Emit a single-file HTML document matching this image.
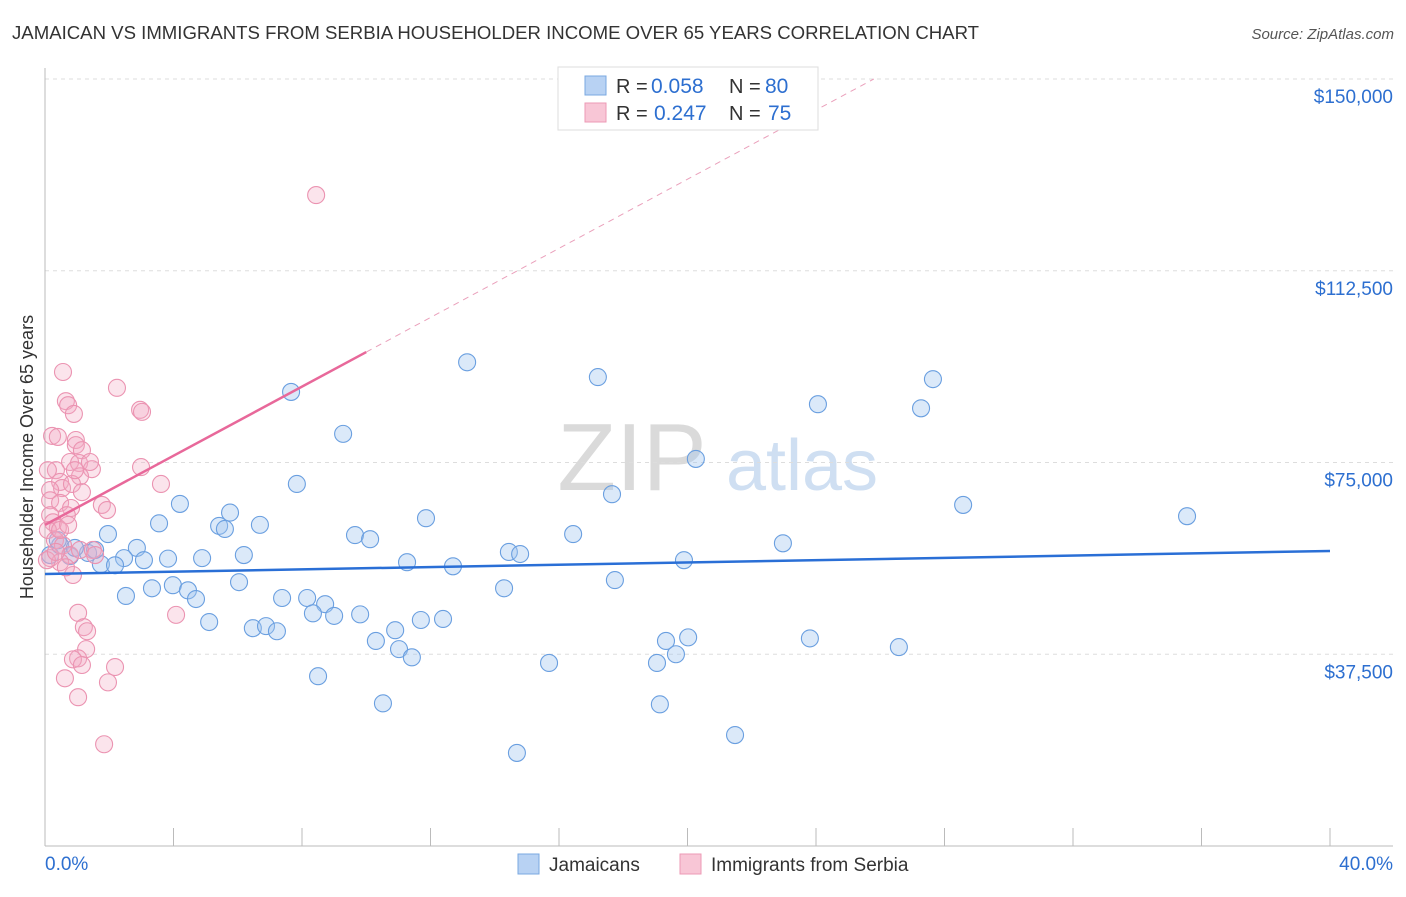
<!DOCTYPE html>
<html><head><meta charset="utf-8"><style>
body{margin:0;background:#fff;font-family:"Liberation Sans",sans-serif;}
svg text{font-family:"Liberation Sans",sans-serif;}
</style></head><body>
<svg id="chart" width="1406" height="892" viewBox="0 0 1406 892">
<text x="12" y="39" font-size="18.6" fill="#333">JAMAICAN VS IMMIGRANTS FROM SERBIA HOUSEHOLDER INCOME OVER 65 YEARS CORRELATION CHART</text>
<text x="1394" y="39" font-size="15" fill="#555" font-style="italic" text-anchor="end">Source: ZipAtlas.com</text>
<text x="632" y="490" font-size="96" fill="#dadada" font-family="Liberation Serif" text-anchor="middle">ZIP</text>
<text x="802" y="490" font-size="72" fill="#cfdff2" text-anchor="middle">atlas</text>
<g id="grid"></g>
<g id="axes"></g>
<g id="points"></g>
<g id="trends"></g>
<text transform="translate(33,457) rotate(-90)" font-size="18" fill="#333" text-anchor="middle">Householder Income Over 65 years</text>
<g>
<rect x="558" y="67" width="260" height="63" fill="#fff" stroke="#ddd"/>
<rect x="585" y="76" width="21" height="19" fill="#b8d2f3" stroke="#7aa8e0"/>
<rect x="585" y="103" width="21" height="19" fill="#f8c6d6" stroke="#ec9ab5"/>
<text x="616" y="93" font-size="20" fill="#333">R =</text>
<text x="651" y="93" font-size="21" fill="#2d6fd0">0.058</text>
<text x="729" y="93" font-size="20" fill="#333">N =</text>
<text x="765" y="93" font-size="21" fill="#2d6fd0">80</text>
<text x="616" y="120" font-size="20" fill="#333">R =</text>
<text x="654" y="120" font-size="21" fill="#2d6fd0">0.247</text>
<text x="729" y="120" font-size="20" fill="#333">N =</text>
<text x="768" y="120" font-size="21" fill="#2d6fd0">75</text>
</g>
<g>
<rect x="518" y="854" width="21" height="20" fill="#b8d2f3" stroke="#7aa8e0"/>
<text x="549" y="871" font-size="19" fill="#333">Jamaicans</text>
<rect x="680" y="854" width="21" height="20" fill="#f8c6d6" stroke="#ec9ab5"/>
<text x="711" y="871" font-size="19" fill="#333">Immigrants from Serbia</text>
</g>
</svg>
<script>
const yTicks=[37500,75000,112500,150000];
const yTickLabels=["$37,500","$75,000","$112,500","$150,000"];
const xTickLabels=["0.0%","40.0%"];
const blueX=[13.14,17.21,27.64,7.66,24.06,27.27,9.28,20.26,28.58,35.55,4.20,5.76,7.84,17.65,11.86,3.55,5.42,5.60,6.69,1.96,16.44,9.65,10.12,22.97,2.86,14.44,14.79,6.19,2.46,3.83,4.89,3.08,11.27,19.89,1.74,2.18,12.70,6.04,17.74,3.98,3.33,4.45,14.29,2.52,4.70,7.38,8.16,8.72,8.34,9.00,9.81,5.11,11.70,12.39,6.47,6.88,7.22,10.90,10.30,19.33,20.02,23.81,26.58,11.02,11.42,15.69,19.05,19.64,8.50,10.52,19.14,21.48,14.69,0.16,0.47,0.78,1.34,1.56,0.40,0.93];
const blueY=[94.6,91.7,91.3,88.8,86.4,85.6,80.6,75.7,66.7,64.5,66.9,65.2,70.8,68.8,64.1,63.1,62.6,62.0,62.8,61.0,61.0,60.8,60.0,59.2,58.3,57.5,57.1,56.9,56.3,56.2,56.3,55.9,55.5,55.9,55.1,54.9,54.7,51.6,52.0,51.0,50.4,50.0,50.4,48.9,48.3,48.5,48.5,47.3,45.5,45.0,45.3,43.8,44.2,44.4,42.6,43.0,42.0,42.2,40.1,40.1,40.8,40.6,38.9,38.5,36.9,35.8,35.8,37.5,33.2,27.9,27.7,21.7,18.2,56.9,58.8,56.7,57.3,57.9,59.8,58.3];
const pinkX=[0.56,2.24,0.65,0.72,2.96,3.02,0.90,0.22,0.40,0.96,0.96,1.15,0.78,1.06,1.46,2.99,0.34,1.09,0.47,0.53,0.84,0.16,3.61,1.15,0.16,0.47,0.81,1.77,1.93,0.16,0.68,0.25,0.40,0.09,0.31,0.56,0.78,1.09,1.49,0.16,0.47,0.87,8.44,1.03,1.21,1.31,1.28,1.03,0.87,1.15,2.18,0.62,1.96,1.03,1.84,4.08,0.06,0.65,0.34,1.56,0.47,0.09,1.40,0.93,0.72];
const pinkY=[92.7,89.6,87.0,86.2,85.3,84.9,84.5,80.2,80.0,79.4,78.4,77.4,75.1,74.9,73.7,74.1,73.5,72.3,71.2,70.0,70.8,69.6,70.8,69.2,67.6,67.1,66.1,66.7,65.7,64.7,64.7,63.3,62.2,61.8,59.8,58.8,56.9,57.9,57.9,56.3,55.5,53.0,127.3,45.6,42.8,42.0,38.5,36.7,36.5,35.4,35.0,32.8,32.0,29.1,19.9,45.2,55.9,54.5,57.5,56.9,61.8,73.5,75.1,73.5,62.8];
const blueTrend=[53.2,57.7];
const pinkTrend=[62.8,96.6];
const NS="http://www.w3.org/2000/svg";
function xs(v){return 45+v/40*1285;}
function ys(k){return 846-k/150*767;}
function mk(tag,attrs,parent){const e=document.createElementNS(NS,tag);for(const a in attrs)e.setAttribute(a,attrs[a]);parent.appendChild(e);return e;}
const grid=document.getElementById('grid'),axes=document.getElementById('axes'),pts=document.getElementById('points'),tr=document.getElementById('trends');
yTicks.forEach((t,i)=>{const y=ys(t/1000);
const l=mk('line',{x1:45,x2:1393,y1:y,y2:y,stroke:'#ddd','stroke-dasharray':'4,4'},grid);


const tx=mk('text',{x:1393,y:y+24,'font-size':19,fill:'#2d6fd0','text-anchor':'end'},axes);tx.textContent=yTickLabels[i];

});
mk('line',{x1:45,x2:45,y1:68,y2:846,stroke:'#bbb'},axes);
mk('line',{x1:45,x2:1393,y1:846,y2:846,stroke:'#bbb'},axes);
for(let i=0;i<=10;i++){const x=xs(i*4);const t=mk('line',{x1:x,x2:x,y1:828,y2:846,stroke:'#bbb'},axes);

}
const xl0=mk('text',{x:45,y:870,'font-size':19,fill:'#2d6fd0'},axes);xl0.textContent=xTickLabels[0];


const xl1=mk('text',{x:1393,y:870,'font-size':19,fill:'#2d6fd0','text-anchor':'end'},axes);xl1.textContent=xTickLabels[1];


blueX.forEach((v,i)=>{const c=mk('circle',{cx:xs(v),cy:ys(blueY[i]),r:8.5,fill:'rgba(160,196,240,0.38)',stroke:'#6a9fe0','stroke-width':1.1},pts);

});
pinkX.forEach((v,i)=>{const c=mk('circle',{cx:xs(v),cy:ys(pinkY[i]),r:8.5,fill:'rgba(244,170,195,0.32)',stroke:'#eb93b1','stroke-width':1.1},pts);

});
const bl=mk('line',{x1:xs(0),y1:ys(blueTrend[0]),x2:xs(40),y2:ys(blueTrend[1]),stroke:'#2a6fd6','stroke-width':2.5},tr);


const slope=(pinkTrend[1]-pinkTrend[0])/10;
const xEnd=(150-pinkTrend[0])/slope;
const pl=mk('line',{x1:xs(0),y1:ys(pinkTrend[0]),x2:xs(10),y2:ys(pinkTrend[1]),stroke:'#e8689a','stroke-width':2.5},tr);


const pd=mk('line',{x1:xs(10),y1:ys(pinkTrend[1]),x2:xs(xEnd),y2:ys(150),stroke:'#eaa0bb','stroke-width':1,'stroke-dasharray':'6,5'},tr);


</script>
</body></html>
